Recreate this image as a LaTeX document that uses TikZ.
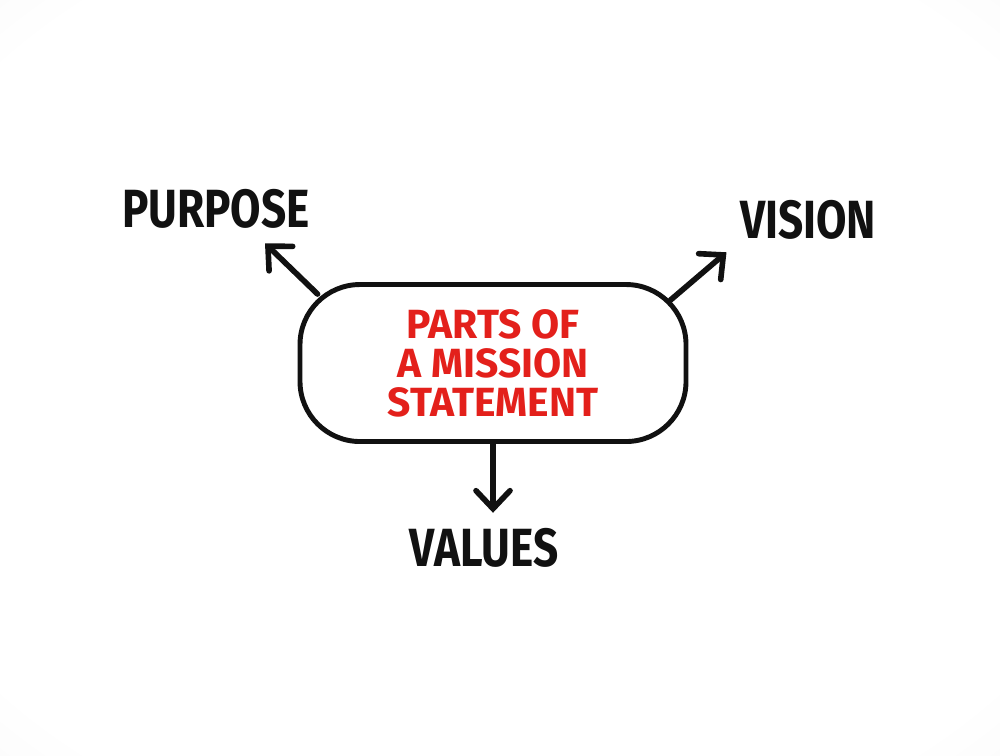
\documentclass[tikz,border=0pt]{standalone}
\usepackage{fontspec}
\setmainfont{Fira Sans}
\usetikzlibrary{arrows.meta,positioning}

\definecolor{markerred}{HTML}{E3201B}
\definecolor{ink}{HTML}{111111}
\pgfdeclareradialshading{paper}{\pgfpoint{0bp}{0bp}}{%
    color(0bp)=(white); color(32bp)=(white); color(72bp)=(black!13)}

\begin{document}
\begin{tikzpicture}[font=\bfseries]
    \tikzset{
        part/.style={
            text=ink,
            font=\bfseries\fontsize{15.3}{16}\selectfont,
            xscale=0.82,
            inner sep=0pt
        },
        pill/.style={
            draw=ink,
            line width=1.4pt,
            rounded corners=0.6cm,
            minimum width=3.86cm,
            minimum height=1.57cm,
            fill=white,
            text=markerred,
            align=center,
            font=\bfseries\fontsize{11.6}{11.1}\selectfont
        },
        link/.style={
            draw=ink,
            line width=1.6pt,
            line cap=round,
            -{Straight Barb[length=1.8mm,width=3.4mm,line cap=round]}
        }
    }

    % background, white with grey corners
    \shade[shading=paper] (0,0) rectangle (10,-7.55);
    \useasboundingbox (0,0) rectangle (10,-7.55);

    \node[pill] (mission) at (4.93,-3.63) {PARTS OF\\A MISSION\\STATEMENT};
    \node[part] (purpose) at (2.16,-2.09) {PURPOSE};
    \node[part] (vision) at (8.08,-2.20) {VISION};
    \node[part] (values) at (4.84,-5.48) {VALUES};

    \coordinate (pstart) at ([shift={(0.20,-0.12)}] mission.north west);
    \coordinate (ptip) at ([shift={(0.49,-0.14)}] purpose.south);
    \coordinate (vstart) at ([shift={(-0.18,-0.18)}] mission.north east);
    \coordinate (vtip) at ([shift={(-0.13,-0.12)}] vision.south west);
    \coordinate (atip) at ([shift={(0.09,0.15)}] values.north);

    \draw[link] (pstart) -- (ptip);
    \draw[link] (vstart) -- (vtip);
    \draw[link] (mission.south) -- (mission.south |- atip);
\end{tikzpicture}
\end{document}
